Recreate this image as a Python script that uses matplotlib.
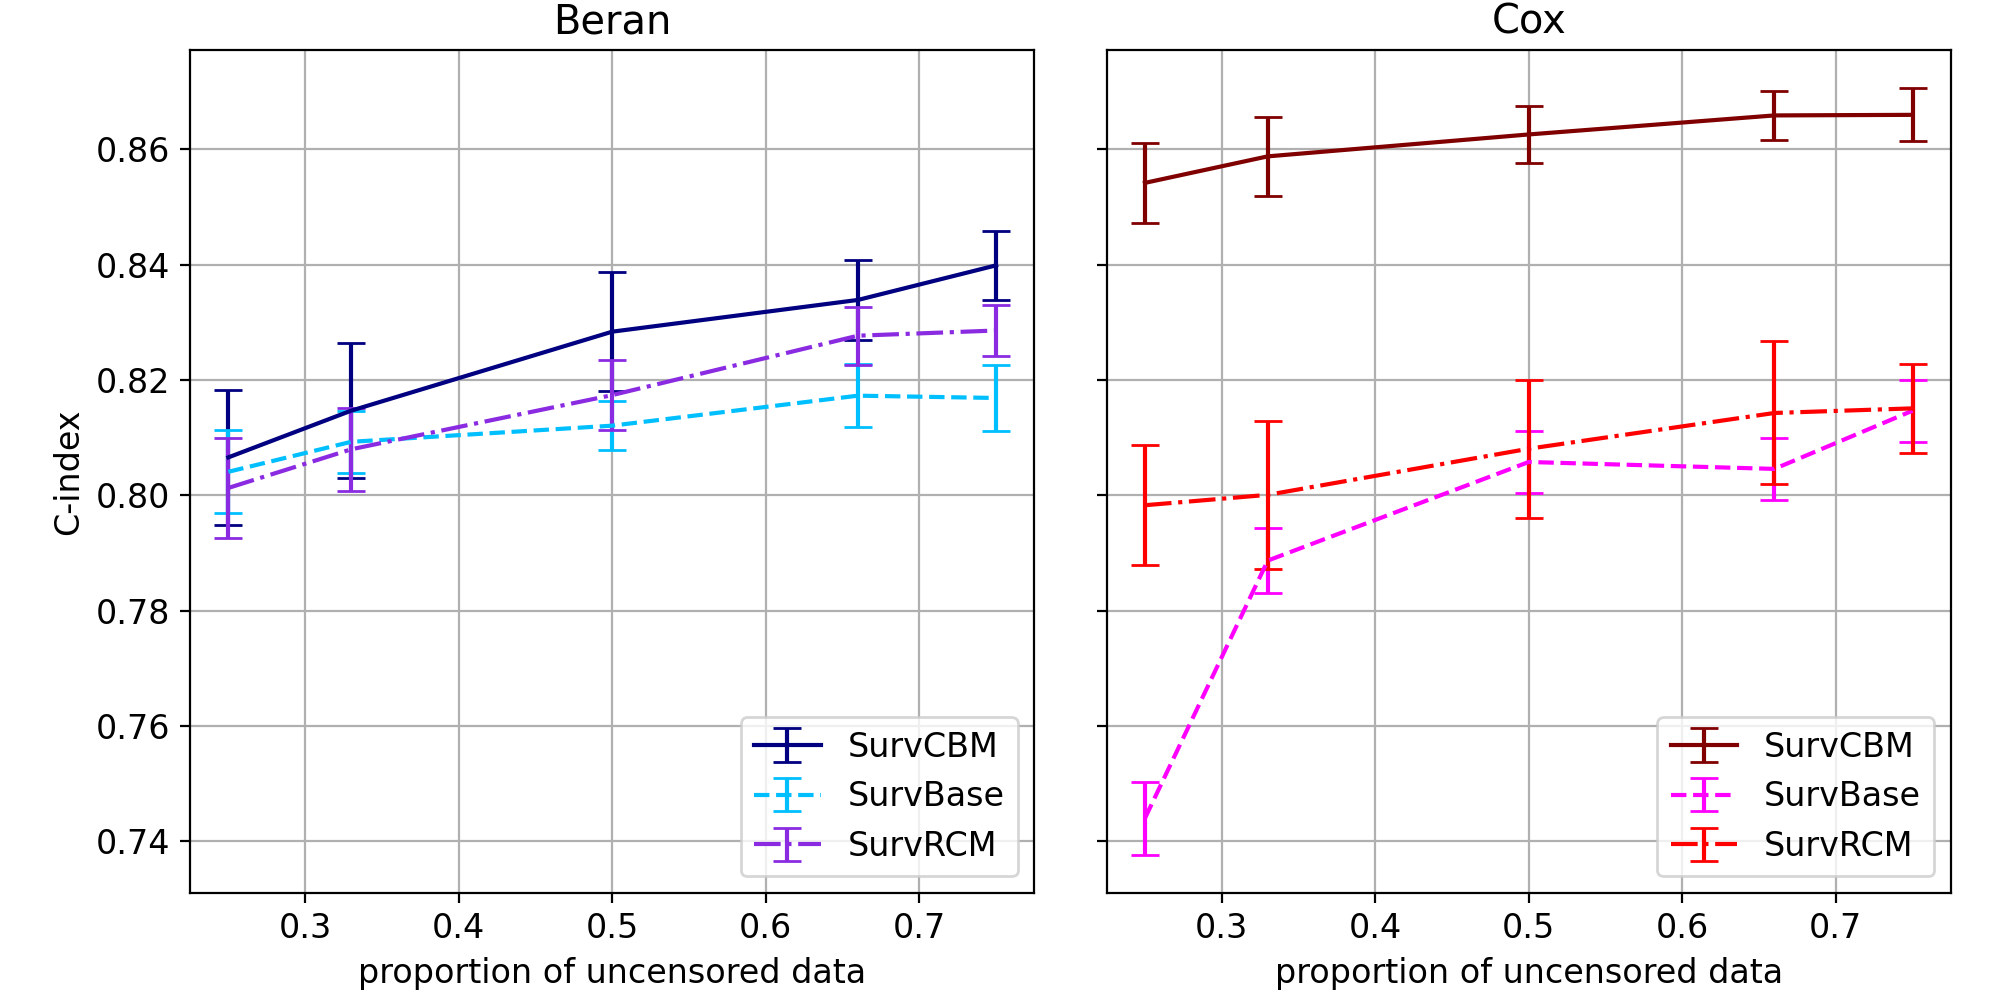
import matplotlib
matplotlib.use("Agg")
import matplotlib.pyplot as plt

plt.rcParams["font.size"] = 12

# proportion of uncensored data
props = [0.25, 0.33, 0.5, 0.66, 0.75]

# Beran
beran_cbm = [0.8066, 0.8147, 0.8284, 0.8339, 0.8399]
beran_cbm_err = [0.0117, 0.0117, 0.0103, 0.0069, 0.0060]
beran_base = [0.8041, 0.8093, 0.8121, 0.8173, 0.8169]
beran_base_err = [0.0072, 0.0054, 0.0043, 0.0055, 0.0057]
beran_rcm = [0.8013, 0.8080, 0.8174, 0.8277, 0.8286]
beran_rcm_err = [0.0087, 0.0072, 0.0060, 0.0050, 0.0045]

# Cox
cox_cbm = [0.8542, 0.8588, 0.8626, 0.8659, 0.8660]
cox_cbm_err = [0.0070, 0.0069, 0.0049, 0.0043, 0.0046]
cox_base = [0.7440, 0.7887, 0.8058, 0.8046, 0.8147]
cox_base_err = [0.0063, 0.0056, 0.0053, 0.0054, 0.0054]
cox_rcm = [0.7983, 0.8001, 0.8081, 0.8143, 0.8151]
cox_rcm_err = [0.0104, 0.0128, 0.0120, 0.0124, 0.0077]

fig, axes = plt.subplots(1, 2, figsize=(10, 5), dpi=200, sharey=True)

panels = [
    ("Beran", axes[0], [(beran_cbm, beran_cbm_err, "navy", "-"),
                        (beran_base, beran_base_err, "deepskyblue", "--"),
                        (beran_rcm, beran_rcm_err, "blueviolet", "-.")]),
    ("Cox", axes[1], [(cox_cbm, cox_cbm_err, "maroon", "-"),
                      (cox_base, cox_base_err, "magenta", "--"),
                      (cox_rcm, cox_rcm_err, "red", "-.")]),
]
names = ["SurvCBM", "SurvBase", "SurvRCM"]

for title, ax, series in panels:
    for (vals, errs, col, ls), name in zip(series, names):
        ax.errorbar(props, vals, yerr=errs, color=col, linestyle=ls,
                    capsize=5, label=name)
    ax.set_title(title)
    ax.set_xlabel("proportion of uncensored data")
    ax.grid(True)
    ax.legend(loc="lower right")

axes[0].set_ylabel("C-index")

plt.subplots_adjust(left=0.095, right=0.9755, top=0.95, bottom=0.107, wspace=0.0853)
plt.savefig("out.png")
